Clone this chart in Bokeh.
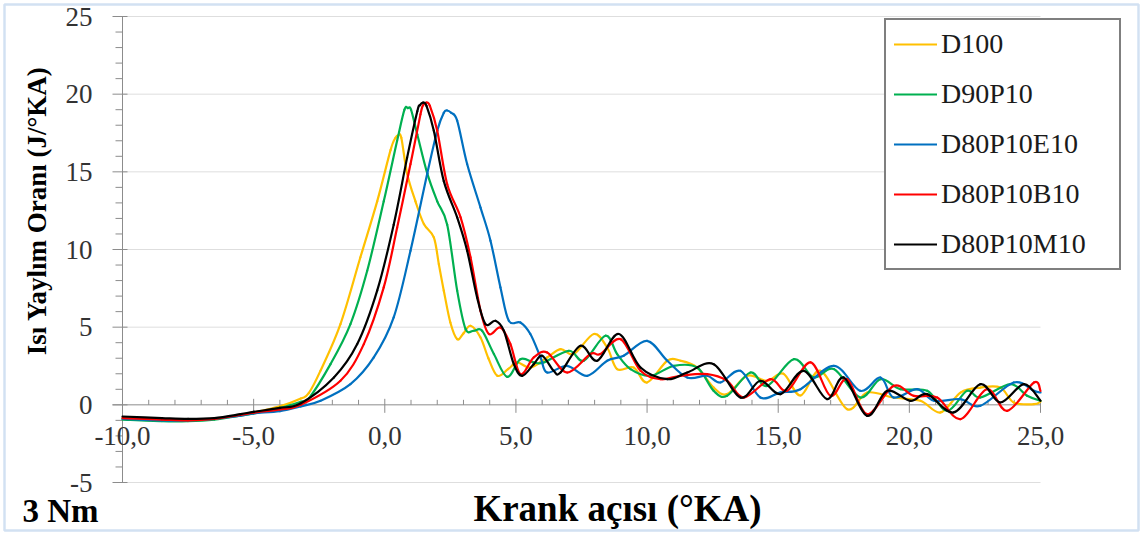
import math
from bokeh.plotting import figure
from bokeh.models import Range1d, Legend, LegendItem, BoxAnnotation
from bokeh.core.properties import value
from bokeh.embed import file_html
from bokeh.resources import INLINE

FONT = "Liberation Serif"

series_names = ["D100", "D90P10", "D80P10E10", "D80P10B10", "D80P10M10"]
series_colors = ["#FFC000", "#00B050", "#0070C0", "#FF0000", "#000000"]

x_d100 = [-10, -8.5, -7.5, -6.5, -5.5, -5, -4, -3.2, -2.9, -2.45, -1.69, -0.93, -0.29, 0.22, 0.41, 0.51, 0.63,
          0.85, 1.17, 1.49, 1.87, 2.06, 2.25, 2.5, 2.76, 3.0, 3.27, 3.65, 3.95, 4.29, 4.7, 5.05,
          5.55, 6.19, 6.7, 7.21, 7.97, 8.48, 8.86, 9.49, 10.0, 10.77, 11.27, 11.91, 12.54, 13.05,
          13.82, 14.58, 15.2, 15.85, 16.61, 17.63, 18.39, 19.4, 20.42, 21.19, 21.95, 22.71, 23.47,
          23.98, 24.75, 25]
y_d100 = [-0.85, -0.95, -1.0, -0.9, -0.65, -0.5, -0.1, 0.4, 0.75, 2.2, 5.2, 9.5, 13.1, 16.4, 17.2, 17.35, 17.2,
          14.9, 13.1, 11.64, 10.78, 9.06, 7.35, 5.3, 4.23, 4.6, 5.09, 4.34, 3.0, 1.87, 2.3, 2.73,
          2.4, 3.05, 3.59, 3.27, 4.56, 3.69, 2.3, 2.4, 1.44, 2.84, 2.84, 2.4, 1.11, 0.69,
          1.87, 1.55, 2.0, 0.6, 2.19, -0.28, 0.79, 0.47, 0.26, -0.49, 0.79, 1.11, 1.11,
          0.15, 0.04, 0.2]

x_d90p10 = [-10, -8.5, -7.5, -6.5, -5.5, -5, -4, -3.2, -2.9, -2.07, -1.31, -0.67, -0.04, 0.47, 0.75, 0.88, 1.0,
            1.24, 1.62, 2.0, 2.38, 2.76, 3.08, 3.39, 3.71, 4.16, 4.67, 5.17, 5.68, 6.06, 7.02, 7.59,
            8.41, 8.86, 9.37, 10.13, 11.02, 11.91, 12.54, 13.05, 13.94, 14.58, 15.6, 16.36, 17.12,
            18.13, 18.9, 19.66, 20.68, 21.44, 22.2, 22.71, 23.85, 24.49, 25]
y_d90p10 = [-0.95, -1.05, -1.05, -0.95, -0.7, -0.55, -0.2, 0.2, 0.4, 2.62, 5.2, 8.63, 13.1, 17.0, 19.0, 19.1, 19.0,
            17.4, 14.9, 13.1, 11.6, 7.35, 4.88, 4.77, 4.77, 3.27, 1.8, 2.94, 2.73, 2.73, 3.48, 2.84,
            4.45, 3.27, 2.3, 1.87, 2.51, 2.4, 0.9, 0.58, 2.08, 1.22, 2.94, 1.76, 2.3,
            0.47, 1.65, 1.01, 0.9, -0.39, 0.9, 0.47, 1.33, 0.58, 0.26]

x_d80p10e10 = [-10, -8.5, -7.5, -6.5, -5.5, -5, -4, -3.2, -2.45, -1.31, -0.42, 0.34, 0.98, 1.62, 2.0,
               2.25, 2.38, 2.53, 2.76, 3.14, 3.65, 4.03, 4.41, 4.73, 5.17, 5.55, 5.94, 6.19, 6.95, 7.72, 8.48,
               9.11, 10.0, 10.77, 11.53, 12.29, 12.8, 13.56, 14.32, 15.09, 15.85, 17.12, 18.13, 18.9,
               19.4, 20.3, 20.94, 21.95, 22.71, 23.98, 24.75, 25]
y_d80p10e10 = [-0.9, -1.0, -1.0, -0.9, -0.7, -0.55, -0.4, -0.1, 0.26, 1.33, 3.05, 5.63, 9.92, 14.9, 17.65,
               18.8, 18.95, 18.8, 18.3, 15.5, 12.7, 10.57, 7.56, 5.41, 5.3, 4.56, 3.05, 2.08, 2.51, 1.87, 2.84,
               3.16, 4.12, 2.84, 1.76, 1.87, 1.44, 2.19, 0.47, 0.8, 1.01, 2.51, 0.9, 1.76,
               0.47, 1.01, 0.26, 0.37, -0.06, 1.44, 0.9, 0.8]

x_d80p10b10 = [-10, -8.5, -7.5, -6.5, -5.5, -5, -4, -3.2, -1.69, -0.8, -0.04, 0.47, 0.98, 1.36, 1.46, 1.59, 1.72,
               2.0, 2.38, 2.89, 3.27, 3.65, 3.97, 4.41, 4.79, 5.17, 5.68, 6.19, 6.95, 7.84, 8.22,
               8.99, 9.75, 10.51, 11.27, 12.29, 13.05, 13.69, 14.7, 15.34, 16.23, 16.99, 17.63, 18.39,
               19.4, 20.17, 21.06, 21.95, 22.96, 23.73, 24.75, 25]
y_d80p10b10 = [-0.85, -0.95, -1.0, -0.9, -0.65, -0.5, -0.3, 0.0, 1.55, 3.91, 7.56, 11.4, 15.5, 18.7, 19.29, 19.45, 19.24,
               17.65, 14.2, 12.07, 9.49, 6.06, 4.56, 4.98, 3.91, 1.98, 3.05, 3.37, 2.08, 3.27, 3.27,
               4.23, 2.19, 1.65, 1.87, 1.98, 1.55, 0.47, 1.65, 0.9, 2.73, 0.58, 1.65, -0.6,
               1.22, 0.58, 0.47, -0.92, 1.01, -0.39, 1.44, 0.9]

x_d80p10m10 = [-10, -8.5, -7.5, -6.5, -5.5, -5, -4, -3.2, -1.94, -1.05, -0.29, 0.34, 0.85, 1.24, 1.34, 1.46, 1.59,
               1.87, 2.25, 2.76, 3.14, 3.52, 3.84, 4.22, 4.54, 4.92, 5.24, 5.68, 6.0, 6.44, 6.7,
               7.46, 8.1, 8.92, 9.75, 10.77, 11.53, 12.54, 13.56, 14.32, 15.09, 15.97, 16.86, 17.5,
               18.39, 19.15, 20.04, 20.68, 21.69, 22.71, 23.47, 24.37, 25]
y_d80p10m10 = [-0.75, -0.85, -0.9, -0.85, -0.6, -0.45, -0.2, 0.1, 1.76, 3.91, 7.35, 11.6, 15.9, 18.9, 19.29, 19.45, 19.24,
               17.65, 14.4, 12.07, 9.92, 6.91, 5.2, 5.41, 4.77, 2.62, 1.87, 2.62, 3.16, 2.19, 2.08,
               3.8, 2.84, 4.56, 2.4, 1.65, 2.08, 2.62, 0.47, 1.55, 0.69, 2.19, 0.37, 1.76,
               -0.71, 0.9, 0.26, 0.69, -0.49, 1.33, 0.15, 1.33, 0.26]

series_x = [x_d100, x_d90p10, x_d80p10e10, x_d80p10b10, x_d80p10m10]
series_y = [y_d100, y_d90p10, y_d80p10e10, y_d80p10b10, y_d80p10m10]

x_major_ticks = [-10, -5, 0, 5, 10, 15, 20, 25]
x_tick_labels = ["-10,0", "-5,0", "0,0", "5,0", "10,0", "15,0", "20,0", "25,0"]
x_minor_ticks = [-9, -8, -7, -6, -4, -3, -2, -1, 1, 2, 3, 4, 6, 7, 8, 9, 11, 12, 13, 14,
                 16, 17, 18, 19, 21, 22, 23, 24]
y_major_ticks = [-5, 0, 5, 10, 15, 20, 25]
y_tick_labels = ["-5", "0", "5", "10", "15", "20", "25"]
y_minor_ticks = [-4, -3, -2, -1, 1, 2, 3, 4, 6, 7, 8, 9, 11, 12, 13, 14, 16, 17, 18, 19,
                 21, 22, 23, 24]
y_grid_lines = [-5, 5, 10, 15, 20, 25]

x_title = "Krank açısı (°KA)"
y_title = "Isı Yaylım Oranı (J/°KA)"
corner_note = "3 Nm"

# ---- layout constants (pixel geometry of the plotting area) ----
W, H = 1142, 535
X0, X1 = -10, 25          # axis extent
Y0, Y1 = -5, 25
PX_LEFT, PX_RIGHT = 122, 1040
PX_TOP, PX_BOTTOM = 16, 482
sx = (PX_RIGHT - PX_LEFT) / (X1 - X0)     # px per x unit
sy = (PX_BOTTOM - PX_TOP) / (Y1 - Y0)     # px per y unit
xr = Range1d(X0 - PX_LEFT / sx, X1 + (W - PX_RIGHT) / sx)
yr = Range1d(Y0 - (H - PX_BOTTOM) / sy, Y1 + PX_TOP / sy)

AXIS_GRAY = "#8c8c8c"
GRID_GRAY = "#dedede"
TEXT_COL = "#333333"


def smooth_segments(xs, ys):
    """Excel-style smoothed line: cubic Bezier pieces through the data points."""
    n = len(xs)
    out = {k: [] for k in ("x0", "y0", "x1", "y1", "cx0", "cy0", "cx1", "cy1")}
    for i in range(n - 1):
        xa, ya = (xs[i - 1], ys[i - 1]) if i > 0 else (xs[i], ys[i])
        xb, yb = (xs[i + 2], ys[i + 2]) if i + 2 < n else (xs[i + 1], ys[i + 1])
        out["x0"].append(xs[i]); out["y0"].append(ys[i])
        out["x1"].append(xs[i + 1]); out["y1"].append(ys[i + 1])
        out["cx0"].append(xs[i] + (xs[i + 1] - xa) / 6)
        out["cy0"].append(ys[i] + (ys[i + 1] - ya) / 6)
        out["cx1"].append(xs[i + 1] - (xb - xs[i]) / 6)
        out["cy1"].append(ys[i + 1] - (yb - ys[i]) / 6)
    return out


p = figure(width=W, height=H, output_backend="svg", toolbar_location=None,
           x_range=xr, y_range=yr, x_axis_location=None, y_axis_location=None,
           min_border=0)
p.outline_line_color = None
p.background_fill_color = "white"
p.border_fill_color = "white"
p.grid.visible = False

# horizontal grid lines
p.segment(x0=[X0] * len(y_grid_lines), y0=y_grid_lines, x1=[X1] * len(y_grid_lines),
          y1=y_grid_lines, line_color=GRID_GRAY, line_width=1)

# y axis at x = -10
p.segment(x0=[X0], y0=[Y0], x1=[X0], y1=[Y1], line_color=AXIS_GRAY, line_width=1)
p.segment(x0=[X0 - 10 / sx] * len(y_major_ticks), y0=y_major_ticks,
          x1=[X0 + 5 / sx] * len(y_major_ticks), y1=y_major_ticks, line_color=AXIS_GRAY)
p.segment(x0=[X0 - 7 / sx] * len(y_minor_ticks), y0=y_minor_ticks,
          x1=[X0] * len(y_minor_ticks), y1=y_minor_ticks, line_color=AXIS_GRAY)
p.text(x=[X0] * len(y_major_ticks), y=y_major_ticks, text=y_tick_labels, x_offset=-30,
       text_align="right", text_baseline="middle", text_font=value(FONT),
       text_font_size="27px", text_color=TEXT_COL)

# x axis at y = 0
p.segment(x0=[X0 - 10 / sx], y0=[0], x1=[X1], y1=[0], line_color=AXIS_GRAY, line_width=1)
p.segment(x0=x_minor_ticks, y0=[0] * len(x_minor_ticks), x1=x_minor_ticks,
          y1=[5 / sy] * len(x_minor_ticks), line_color=AXIS_GRAY, line_width=1)
p.segment(x0=x_major_ticks, y0=[-8 / sy] * len(x_major_ticks), x1=x_major_ticks,
          y1=[6 / sy] * len(x_major_ticks), line_color=AXIS_GRAY, line_width=1)
p.text(x=x_major_ticks, y=[0] * len(x_major_ticks), text=x_tick_labels, y_offset=31,
       text_align="center", text_baseline="middle", text_font=value(FONT),
       text_font_size="27px", text_color=TEXT_COL)

# axis titles and note
p.text(x=[X0], y=[12.5], text=[y_title], x_offset=-86, angle=math.pi / 2,
       text_align="center", text_baseline="middle", text_font=value(FONT),
       text_font_size="27px", text_font_style="bold", text_color="black")
p.text(x=[X0 + (617 - PX_LEFT) / sx], y=[Y0], text=[x_title], y_offset=26,
       text_align="center", text_baseline="middle", text_font=value(FONT),
       text_font_size="37px", text_font_style="bold", text_color="black")
p.text(x=[X0 + (22 - PX_LEFT) / sx], y=[Y0], text=[corner_note], y_offset=28,
       text_align="left", text_baseline="middle", text_font=value(FONT),
       text_font_size="33px", text_font_style="bold", text_color="black")

renderers = []
for xs, ys, c in zip(series_x, series_y, series_colors):
    seg = smooth_segments(xs, ys)
    r = p.bezier(source=seg, x0="x0", y0="y0", x1="x1", y1="y1",
                 cx0="cx0", cy0="cy0", cx1="cx1", cy1="cy1",
                 line_color=c, line_width=2.2, line_cap="round")
    renderers.append(r)

legend = Legend(items=[LegendItem(label=n, renderers=[r], index=0) for n, r in zip(series_names, renderers)],
                location=(884, H - 270))
legend.padding = 8
legend.margin = 0
legend.spacing = 18
legend.label_height = 30
legend.glyph_height = 30
legend.glyph_width = 43
legend.label_standoff = 4
legend.label_width = 170
legend.label_text_font = FONT
legend.label_text_font_size = "28px"
legend.label_text_color = "#1a1a1a"
legend.border_line_color = "black"
legend.border_line_width = 2
legend.background_fill_color = "white"
legend.background_fill_alpha = 1
p.add_layout(legend)

p.add_layout(BoxAnnotation(left=4, right=W - 4, bottom=5, top=H - 4,
                           left_units="screen", right_units="screen",
                           bottom_units="screen", top_units="screen",
                           fill_alpha=0, line_color="#6a9bd3", line_width=2.5))

open("out.html", "w").write(file_html(p, INLINE))
